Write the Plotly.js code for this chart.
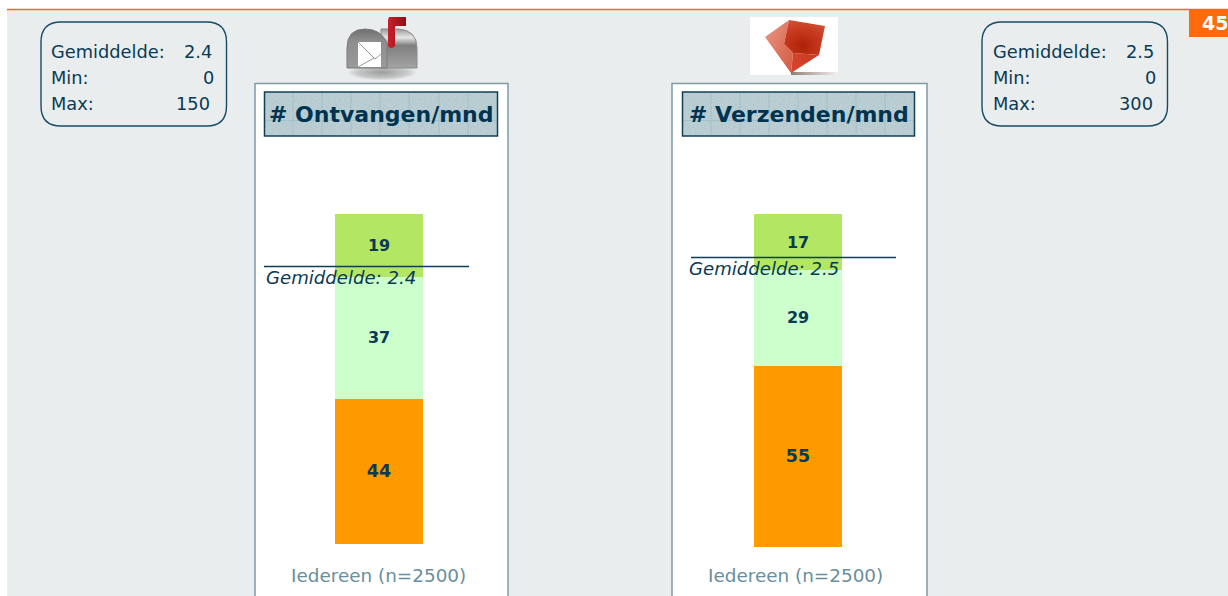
<!DOCTYPE html>
<html>
<head>
<meta charset="utf-8">
<script src="https://cdn.plot.ly/plotly-3.0.1.min.js"></script>
<style>html,body{margin:0;padding:0;background:#fff;overflow:hidden}#c{width:1228px;height:596px}</style>
</head>
<body>
<div id="c"></div>
<script>
const categories = ['Iedereen (n=2500)'];
const receivedLow = [44], receivedMid = [37], receivedHigh = [19];
const sentLow = [55], sentMid = [29], sentHigh = [17];
const panelTitles = ['# Ontvangen/mnd', '# Verzenden/mnd'];
const statLabels = ['Gemiddelde:', 'Min:', 'Max:'];
const receivedStats = ['2.4', '0', '150'];
const sentStats = ['2.5', '0', '300'];
const meanLabels = ['Gemiddelde: 2.4', 'Gemiddelde: 2.5'];
const pageNumber = '45';

const W = 1228, H = 596;
const FONT = 'DejaVu Sans, Verdana, sans-serif';
const INK = '#0b3a54', ORANGE = '#ff9900', MID = '#ccffcc', HIGH = '#b2e663';
const px = x => x / W, py = y => 1 - y / H;

function bar(values, color, xa, ya, size) {
  return {type: 'bar', x: categories, y: values, text: values.map(String), textposition: 'inside',
    insidetextanchor: 'middle', textangle: 0, constraintext: 'none',
    textfont: {family: FONT, color: INK, size: size, weight: 700},
    marker: {color: color, line: {width: 0}}, xaxis: xa, yaxis: ya, hoverinfo: 'y', showlegend: false};
}
const data = [
  bar(receivedLow, ORANGE, 'x', 'y', 17.5),
  bar(receivedMid, MID, 'x', 'y', 16),
  bar(receivedHigh, HIGH, 'x', 'y', 16),
  bar(sentLow, ORANGE, 'x2', 'y2', 17.5),
  bar(sentMid, MID, 'x2', 'y2', 16),
  bar(sentHigh, HIGH, 'x2', 'y2', 16)
];

function rect(x0, y0, x1, y1, fill, lineColor, lw, layer) {
  return {type: 'rect', xref: 'paper', yref: 'paper', x0: px(x0), x1: px(x1), y0: py(y0), y1: py(y1),
    fillcolor: fill, line: {color: lineColor || 'rgba(0,0,0,0)', width: lw || 0}, layer: layer || 'below'};
}
function hline(x0, x1, y, color, lw, layer) {
  return {type: 'line', xref: 'paper', yref: 'paper', x0: px(x0), x1: px(x1), y0: py(y), y1: py(y),
    line: {color: color, width: lw}, layer: layer || 'above'};
}
function vline(x, y0, y1, color, lw, layer) {
  return {type: 'line', xref: 'paper', yref: 'paper', x0: px(x), x1: px(x), y0: py(y0), y1: py(y1),
    line: {color: color, width: lw}, layer: layer || 'above'};
}
function rounded(x0, y0, x1, y1, r) {
  const P = (x, y) => px(x).toFixed(5) + ',' + py(y).toFixed(5);
  const path = 'M' + P(x0 + r, y0) + ' L' + P(x1 - r, y0) + ' Q' + P(x1, y0) + ' ' + P(x1, y0 + r) +
    ' L' + P(x1, y1 - r) + ' Q' + P(x1, y1) + ' ' + P(x1 - r, y1) + ' L' + P(x0 + r, y1) +
    ' Q' + P(x0, y1) + ' ' + P(x0, y1 - r) + ' L' + P(x0, y0 + r) + ' Q' + P(x0, y0) + ' ' + P(x0 + r, y0) + ' Z';
  return {type: 'path', xref: 'paper', yref: 'paper', path: path, fillcolor: 'rgba(0,0,0,0)',
    line: {color: '#174a63', width: 1.4}, layer: 'below'};
}
function header(x0, x1, gridXs) {
  const out = [];
  gridXs.forEach(x => out.push(vline(x, 93, 135, '#a2c0c6', 1)));
  out.push(hline(x0 + 1, x1 - 1, 120.5, '#a2c0c6', 1));
  out.push(rect(x0, 92, x1, 136, 'rgba(0,0,0,0)', '#0f4058', 1.5, 'above'));
  return out;
}
const shapes = [
  rect(0, 0, 1228, 9, '#ffffff'),
  rect(0, 0, 7, 596, '#ffffff'),
  rect(1189, 10, 1228, 37, '#ff6a0d'),
  rect(255, 83.5, 508, 610, '#ffffff', '#8099a5', 1.5),
  rect(672, 83.5, 927, 610, '#ffffff', '#8099a5', 1.5),
  rect(264.5, 92, 497.5, 136, '#bdd0d5'),
  rect(682.5, 92, 914.5, 136, '#bdd0d5'),
  ...header(264.5, 497.5, [293, 322, 351, 380, 409, 439, 468]),
  ...header(682.5, 914.5, [711, 740, 769, 798, 827, 856, 885]),
  rounded(41, 22, 226.5, 126, 20),
  rounded(982, 22, 1167.5, 126, 20),
  hline(264, 469, 266.5, '#0f3f58', 1.3),
  hline(691, 896, 257.5, '#0f3f58', 1.3),
  rect(7, 8.8, 1228, 10.2, '#f26a22', null, 0, 'above')
];

function note(text, x, y, anchor, size, color) {
  return {xref: 'paper', yref: 'paper', x: px(x), y: py(y), text: text, showarrow: false,
    xanchor: anchor, yanchor: 'middle', font: {family: FONT, size: size, color: color}, borderpad: 0};
}
const annotations = [];
[[receivedStats, 50, [213, 215, 211]], [sentStats, 992, [1154.5, 1156.5, 1153.5]]].forEach(([vals, lx, rx]) => {
  [52, 78, 104].forEach((y, i) => {
    annotations.push(note(statLabels[i], lx, y, 'left', 17.8, INK));
    annotations.push(note(vals[i], rx[i], y, 'right', 17.8, INK));
  });
});
annotations.push(note('<b>' + panelTitles[0] + '</b>', 381.5, 114.5, 'center', 22, '#003350'));
annotations.push(note('<b>' + panelTitles[1] + '</b>', 799, 114.5, 'center', 22, '#003350'));
annotations.push(note('<i>' + meanLabels[0] + '</i>', 265, 278, 'left', 18.1, INK));
annotations.push(note('<i>' + meanLabels[1] + '</i>', 688, 269, 'left', 18.1, INK));
annotations.push(note(categories[0], 378.5, 575, 'center', 18.4, '#6a8e9c'));
annotations.push(note(categories[0], 795, 575, 'center', 18.4, '#6a8e9c'));
annotations.push(note('<b>' + pageNumber + '</b>', 1229, 23, 'right', 19, '#ffffff'));

const mailboxSvg = `<svg xmlns="http://www.w3.org/2000/svg" width="85" height="70" viewBox="340 12 85 70">
<defs>
<linearGradient id="a" x1="0" y1="0" x2="0" y2="1"><stop offset="0" stop-color="#6f6f6f"/><stop offset=".3" stop-color="#8d8d8d"/><stop offset="1" stop-color="#9a9a9a"/></linearGradient>
<linearGradient id="b" x1="0" y1="0" x2="0" y2="1"><stop offset="0" stop-color="#9a9a9a"/><stop offset=".22" stop-color="#e6e6e6"/><stop offset=".42" stop-color="#7f7f7f"/><stop offset="1" stop-color="#a4a4a4"/></linearGradient>
<radialGradient id="s"><stop offset="0" stop-color="#9d9d9d"/><stop offset=".7" stop-color="#c6c8c8"/><stop offset="1" stop-color="#e9edee"/></radialGradient>
<linearGradient id="f" x1="0" y1="0" x2="1" y2="0"><stop offset="0" stop-color="#c8202c"/><stop offset="1" stop-color="#8e0f18"/></linearGradient>
</defs>
<ellipse cx="382" cy="72.5" rx="35" ry="8" fill="url(#s)"/>
<path d="M381 68 V29 H398 Q417 30 417 48 V68 Z" fill="url(#b)" stroke="#8b8b8b"/>
<path d="M347 68 V48 Q347 29 365 29 Q381 29 387 43 L387 68 Z" fill="url(#a)" stroke="#7a7a7a"/>
<path d="M358 42 H381 V67 H358 Z" fill="#ffffff"/>
<path d="M358 42 L375 59 L381 54 M358 67 L374 58" fill="none" stroke="#9a9a9a" stroke-width="1"/>
<path d="M389 17 H406 V26 H396 Q395 26 395 28 V46 Q391 50 388 46 V20 Z" fill="url(#f)"/>
</svg>`;
const gemSvg = `<svg xmlns="http://www.w3.org/2000/svg" width="88" height="58" viewBox="750 17 88 58">
<defs>
<linearGradient id="l" x1="0" y1="0" x2="1" y2="1"><stop offset="0" stop-color="#e89a86"/><stop offset="1" stop-color="#d65640"/></linearGradient>
<radialGradient id="t" cx=".45" cy=".75" r=".85"><stop offset="0" stop-color="#ac2208"/><stop offset=".55" stop-color="#c6391d"/><stop offset="1" stop-color="#d5533c"/></radialGradient>
<linearGradient id="u" x1="0" y1="0" x2="1" y2="0"><stop offset="0" stop-color="#d5432c"/><stop offset="1" stop-color="#c93a22"/></linearGradient>
<linearGradient id="g" x1="0" y1="0" x2="1" y2="0"><stop offset="0" stop-color="#8d7f76"/><stop offset="1" stop-color="#f3f0ee"/></linearGradient>
</defs>
<rect x="750" y="17" width="88" height="58" fill="#ffffff"/>
<rect x="791" y="72" width="47" height="3" fill="url(#g)"/>
<path d="M789 20 L765 37 L791 73 L793 53 L784 44 Z" fill="url(#l)"/>
<path d="M793 53 L819 55 L791 73 Z" fill="url(#u)"/>
<path d="M789 20 L825 26 L819 55 L793 53 L784 44 Z" fill="url(#t)"/>
</svg>`;
const noiseSvg = (w, h) => `<svg xmlns="http://www.w3.org/2000/svg" width="${w}" height="${h}" viewBox="0 0 ${w} ${h}">
<filter id="n" x="0" y="0" width="100%" height="100%"><feTurbulence type="fractalNoise" baseFrequency="0.85" numOctaves="2" seed="4"/>
<feColorMatrix values="0 0 0 0 .42 0 0 0 0 .55 0 0 0 0 .6 2 0 0 0 -.7"/></filter>
<rect width="${w}" height="${h}" filter="url(#n)"/></svg>`;
const uri = s => 'data:image/svg+xml;charset=utf-8,' + encodeURIComponent(s);
function image(svg, x0, y0, w, h) {
  return {source: uri(svg), xref: 'paper', yref: 'paper', x: px(x0), y: py(y0), sizex: w / W, sizey: h / H,
    xanchor: 'left', yanchor: 'top', sizing: 'stretch', layer: 'above'};
}
const images = [image(mailboxSvg, 340, 12, 85, 70), image(gemSvg, 750, 17, 88, 58),
  image(noiseSvg(233, 44), 264.5, 92, 233, 44), image(noiseSvg(232, 44), 682.5, 92, 232, 44)];

function xAxis(x0, x1, anchor) {
  return {domain: [px(x0), px(x1)], anchor: anchor, type: 'category', showticklabels: false, ticks: '',
    showgrid: false, zeroline: false, showline: false, fixedrange: true};
}
function yAxis(y0, y1, top, anchor) {
  return {domain: [py(y1), py(y0)], anchor: anchor, range: [0, top], showticklabels: false, ticks: '',
    showgrid: false, zeroline: false, showline: false, fixedrange: true};
}
const layout = {
  width: W, height: H, margin: {l: 0, r: 0, t: 0, b: 0, pad: 0}, autosize: false,
  paper_bgcolor: '#e9edee', plot_bgcolor: 'rgba(0,0,0,0)', barmode: 'stack', bargap: 0, showlegend: false,
  font: {family: FONT, color: INK},
  xaxis: xAxis(335, 423, 'y'), yaxis: yAxis(214, 544, 100, 'x'),
  xaxis2: xAxis(754, 842, 'y2'), yaxis2: yAxis(214, 547, 101, 'x2'),
  shapes: shapes, annotations: annotations, images: images
};
Plotly.newPlot('c', data, layout, {displayModeBar: false, staticPlot: true});
</script>
</body>
</html>
